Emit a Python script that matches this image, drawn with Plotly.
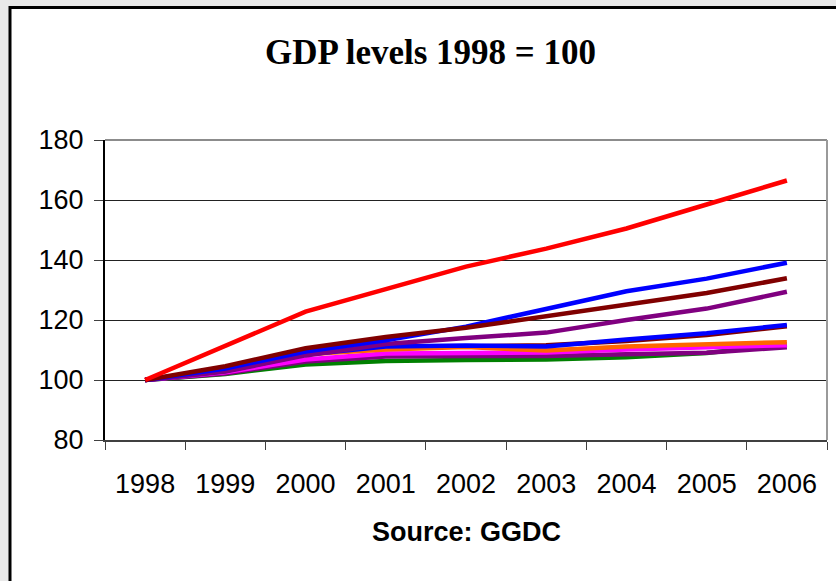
import plotly.graph_objects as go

# Index values, 1998 = 100
years = ["1998", "1999", "2000", "2001", "2002", "2003", "2004", "2005", "2006"]

red = [100, 111.5, 122.8, 130.3, 137.8, 143.8, 150.5, 158.5, 166.5]
blue_hi = [100, 103.8, 109.5, 113.2, 117.8, 123.8, 129.6, 133.8, 139.1]
maroon_hi = [100, 104.6, 110.6, 114.3, 117.4, 121.2, 125.2, 129.0, 133.9]
purple_hi = [100, 102.8, 108.2, 112.0, 114.0, 115.8, 120.0, 123.8, 129.4]
blue_lo = [100, 103.0, 108.5, 111.2, 111.5, 111.2, 113.5, 115.6, 118.3]
maroon_lo = [100, 103.2, 108.7, 110.8, 111.2, 111.6, 113.0, 115.0, 117.9]
orange = [100, 103.6, 108.6, 110.2, 111.0, 109.8, 111.2, 112.0, 112.6]
magenta = [100, 102.6, 106.8, 108.8, 109.0, 109.2, 110.2, 111.0, 111.6]
purple_lo = [100, 102.2, 106.2, 107.8, 108.0, 108.0, 108.6, 109.1, 110.9]
green = [100, 102.0, 105.2, 106.3, 106.7, 106.8, 107.6, 109.0, 111.9]

y_ticks = [80, 100, 120, 140, 160, 180]

# drawing order: first listed is drawn underneath
series = [
    ("Series 1", green, "#008000"),
    ("Series 2", purple_lo, "#800080"),
    ("Series 3", magenta, "#FF00FF"),
    ("Series 4", maroon_lo, "#800000"),
    ("Series 5", orange, "#FF6600"),
    ("Series 6", blue_lo, "#0000FF"),
    ("Series 7", purple_hi, "#800080"),
    ("Series 8", blue_hi, "#0000FF"),
    ("Series 9", maroon_hi, "#800000"),
    ("Series 10", red, "#FF0000"),
]

W, H = 836, 581
L, R, T, B = 105, 9, 140, 141
pw, ph = W - L - R, H - T - B


def px_x(x):
    return (x - L) / pw


def px_y(y):
    return (H - B - y) / ph


fig = go.Figure()
for name, vals, color in series:
    fig.add_trace(go.Scatter(
        x=years, y=vals, name=name, mode="lines",
        line=dict(color=color, width=4.5),
        hoverinfo="x+y",
    ))

frame = [
    # white card with a black edge on grey background
    dict(type="rect", xref="paper", yref="paper",
         x0=px_x(10), x1=px_x(W + 20), y0=px_y(H + 20), y1=px_y(7.5),
         fillcolor="white", line=dict(color="black", width=3), layer="below"),
    # grey top and right edges of the plot area
    dict(type="line", xref="paper", yref="paper", x0=0, x1=1, y0=1, y1=1,
         line=dict(color="#8c8c8c", width=2)),
    dict(type="line", xref="paper", yref="paper", x0=1, x1=1, y0=0, y1=1,
         line=dict(color="#9a9a9a", width=2)),
]

fig.update_layout(
    width=W, height=H, autosize=False,
    margin=dict(l=L, r=R, t=T, b=B, pad=0),
    paper_bgcolor="#e9e9e9",
    plot_bgcolor="white",
    showlegend=False,
    shapes=frame,
    font=dict(family="Arial, Liberation Sans, sans-serif", color="black"),
    annotations=[
        dict(text="<b>GDP levels 1998 = 100</b>", xref="paper", yref="paper",
             x=px_x(430), y=px_y(53), xanchor="center", yanchor="middle",
             showarrow=False,
             font=dict(family="Times New Roman, Liberation Serif, serif",
                       size=35, color="black")),
        dict(text="<b>Source: GGDC</b>", xref="paper", yref="paper",
             x=px_x(466), y=px_y(532), xanchor="center", yanchor="middle",
             showarrow=False,
             font=dict(family="Arial, Liberation Sans, sans-serif",
                       size=27, color="black")),
    ],
    xaxis=dict(
        type="category", range=[-0.5, 8.5],
        showgrid=False, zeroline=False,
        showline=True, linecolor="#404040", linewidth=2,
        ticks="outside", tickson="boundaries", ticklen=8,
        tickcolor="#404040", tickwidth=1,
        tickfont=dict(size=27), ticklabelstandoff=19,
    ),
    yaxis=dict(
        range=[80, 180], tickvals=y_ticks,
        showgrid=True, gridcolor="#222222", gridwidth=1,
        zeroline=False,
        showline=True, linecolor="black", linewidth=2,
        ticks="outside", ticklen=9, tickcolor="#404040", tickwidth=1,
        tickfont=dict(size=27), ticklabelstandoff=5,
    ),
)

fig.write_html("out.html")
